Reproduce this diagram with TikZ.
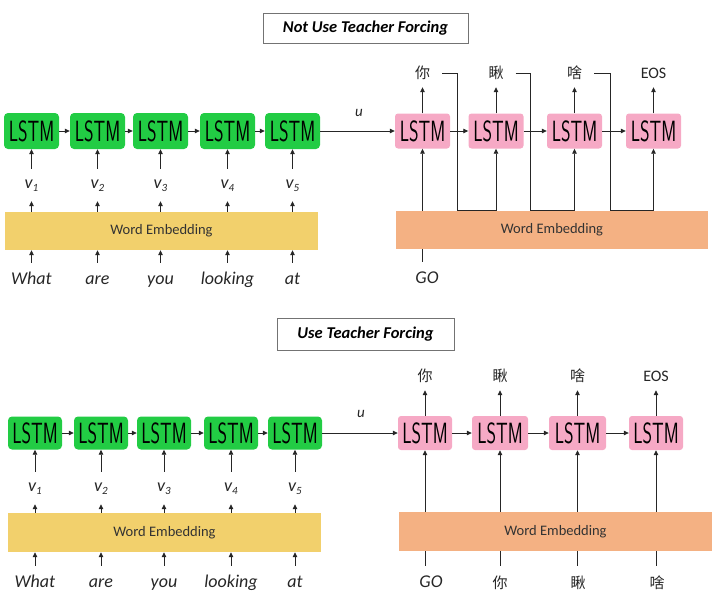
\documentclass[tikz,border=0pt]{standalone}
\usepackage{fontspec}
\setmainfont{Carlito}
\newfontfamily\cjk{Noto Sans CJK SC}
\usepackage{graphicx}
\usetikzlibrary{arrows.meta, positioning, calc}

\definecolor{lstmgreen}{HTML}{22CC44}
\definecolor{lstmpink}{HTML}{F6A9C5}
\definecolor{embyellow}{HTML}{F2D06C}
\definecolor{emborange}{HTML}{F4B183}

\newcommand{\lstm}{\sffamily\fontsize{24}{24}\selectfont\scalebox{0.76}[1.22]{LSTM}}
\newcommand{\vsub}[1]{v\raisebox{-3pt}{\fontsize{11}{11}\selectfont #1}}

\tikzset{
    enc/.style={rectangle, rounded corners=4pt, fill=lstmgreen, minimum width=55pt, minimum height=36pt, inner sep=0pt},
    dec/.style={rectangle, rounded corners=3pt, fill=lstmpink, minimum width=55pt, minimum height=35pt, inner sep=0pt},
    emb/.style={rectangle, fill=#1, minimum width=313pt, minimum height=38pt, inner sep=0pt, text=black!80, font=\fontsize{14.5}{14.5}\selectfont},
    vec/.style={font=\itshape\fontsize{18}{18}\selectfont, minimum height=32pt, text height=9pt, text depth=3pt, inner sep=0pt, text=black!85},
    word/.style={font=\itshape\fontsize{18}{18}\selectfont, minimum height=34pt, text height=12pt, text depth=4pt, inner sep=0pt, text=black!85},
    tok/.style={font=\cjk\fontsize{15}{15}\selectfont, minimum height=28pt, text height=12pt, text depth=2pt, inner sep=0pt, text=black!85},
    headbox/.style={draw=black!55, line width=0.7pt, minimum height=30pt, font=\bfseries\itshape\fontsize{16.5}{16.5}\selectfont},
    arr/.style={-{Triangle[length=5pt,width=4.5pt]}, line width=0.8pt, draw=black!85},
}

\begin{document}
\begin{tikzpicture}[x=1pt, y=-1pt]
    \useasboundingbox (0,0) rectangle (720,605);

    % not use teacher forcing
    \node[headbox, minimum width=205pt] (heada) at (365.5,28) {Not Use Teacher Forcing};

    \node[enc] (enca1) at (31.5,131) {\lstm};
    \node[enc] (enca2) at (97.5,131) {\lstm};
    \node[enc] (enca3) at (160.5,131) {\lstm};
    \node[enc] (enca4) at (227.5,131) {\lstm};
    \node[enc] (enca5) at (292.5,131) {\lstm};

    \node[vec] (veca1) at (31.5,185) {\vsub{1}};
    \node[vec] (veca2) at (97.5,185) {\vsub{2}};
    \node[vec] (veca3) at (160.5,185) {\vsub{3}};
    \node[vec] (veca4) at (227.5,185) {\vsub{4}};
    \node[vec] (veca5) at (292.5,185) {\vsub{5}};

    \node[emb=embyellow] (emba) at (161.5,231) {Word Embedding};

    \node[word] (worda1) at (31.5,280) {What};
    \node[word] (worda2) at (97.5,280) {are};
    \node[word] (worda3) at (160.5,280) {you};
    \node[word] (worda4) at (227.5,280) {looking};
    \node[word] (worda5) at (292.5,280) {at};

    \draw[arr] (enca1) -- (enca2);
    \draw[arr] (enca2) -- (enca3);
    \draw[arr] (enca3) -- (enca4);
    \draw[arr] (enca4) -- (enca5);
    \draw[arr] (veca1.north) -- (enca1.south);
    \draw[arr] (veca2.north) -- (enca2.south);
    \draw[arr] (veca3.north) -- (enca3.south);
    \draw[arr] (veca4.north) -- (enca4.south);
    \draw[arr] (veca5.north) -- (enca5.south);
    \draw[arr] (emba.north -| veca1) -- (veca1.south);
    \draw[arr] (emba.north -| veca2) -- (veca2.south);
    \draw[arr] (emba.north -| veca3) -- (veca3.south);
    \draw[arr] (emba.north -| veca4) -- (veca4.south);
    \draw[arr] (emba.north -| veca5) -- (veca5.south);
    \draw[arr] (worda1.north) -- (worda1.north |- emba.south);
    \draw[arr] (worda2.north) -- (worda2.north |- emba.south);
    \draw[arr] (worda3.north) -- (worda3.north |- emba.south);
    \draw[arr] (worda4.north) -- (worda4.north |- emba.south);
    \draw[arr] (worda5.north) -- (worda5.north |- emba.south);

    \node[dec] (deca1) at (422.5,131) {\lstm};
    \node[dec] (deca2) at (496,131) {\lstm};
    \node[dec] (deca3) at (574.5,131) {\lstm};
    \node[dec] (deca4) at (653.5,131) {\lstm};

    \node[tok] (toka1) at (422.5,73) {你};
    \node[tok] (toka2) at (496,73) {瞅};
    \node[tok] (toka3) at (574.5,73) {啥};
    \node[tok, font=\fontsize{16}{16}\selectfont] (toka4) at (653.5,73) {EOS};

    \node[word, font=\itshape\fontsize{15}{15}\selectfont] (ua) at (359,112) {u};
    \node[word] (goa) at (427,279) {GO};

    \draw[arr] (enca5) -- (deca1);
    \draw[arr] (deca1) -- (deca2);
    \draw[arr] (deca2) -- (deca3);
    \draw[arr] (deca3) -- (deca4);
    \draw[arr] (deca1.north) -- (toka1.south);
    \draw[arr] (deca2.north) -- (toka2.south);
    \draw[arr] (deca3.north) -- (toka3.south);
    \draw[arr] (deca4.north) -- (toka4.south);
    \draw[arr] (goa.north -| deca1) -- (deca1.south);

    \node[emb=emborange, minimum width=312pt] (embda) at (552,230) {Word Embedding};

    \draw[arr] ([xshift=12pt]toka1.east) -- ++(15,0) |- (embda.north -| deca2) -- (deca2.south);
    \draw[arr] ([xshift=12pt]toka2.east) -- ++(15,0) |- (embda.north -| deca3) -- (deca3.south);
    \draw[arr] ([xshift=12pt]toka3.east) -- ++(16,0) |- (embda.north -| deca4) -- (deca4.south);

    % use teacher forcing
    \node[headbox, minimum width=177pt, minimum height=32pt] (headb) at (365.5,334) {Use Teacher Forcing};

    \node[enc, minimum width=54pt, minimum height=33pt] (encb1) at (35,433) {\lstm};
    \node[enc, minimum width=54pt, minimum height=33pt] (encb2) at (101,433) {\lstm};
    \node[enc, minimum width=54pt, minimum height=33pt] (encb3) at (164,433) {\lstm};
    \node[enc, minimum width=54pt, minimum height=33pt] (encb4) at (231,433) {\lstm};
    \node[enc, minimum width=54pt, minimum height=33pt] (encb5) at (295,433) {\lstm};

    \node[vec] (vecb1) at (35,488) {\vsub{1}};
    \node[vec] (vecb2) at (101,488) {\vsub{2}};
    \node[vec] (vecb3) at (164,488) {\vsub{3}};
    \node[vec] (vecb4) at (231,488) {\vsub{4}};
    \node[vec] (vecb5) at (295,488) {\vsub{5}};

    \node[emb=embyellow, minimum height=39pt] (embb) at (164.5,532.5) {Word Embedding};

    \node[word] (wordb1) at (35,583) {What};
    \node[word] (wordb2) at (101,583) {are};
    \node[word] (wordb3) at (164,583) {you};
    \node[word] (wordb4) at (231,583) {looking};
    \node[word] (wordb5) at (295,583) {at};

    \draw[arr] (encb1) -- (encb2);
    \draw[arr] (encb2) -- (encb3);
    \draw[arr] (encb3) -- (encb4);
    \draw[arr] (encb4) -- (encb5);
    \draw[arr] (vecb1.north) -- (encb1.south);
    \draw[arr] (vecb2.north) -- (encb2.south);
    \draw[arr] (vecb3.north) -- (encb3.south);
    \draw[arr] (vecb4.north) -- (encb4.south);
    \draw[arr] (vecb5.north) -- (encb5.south);
    \draw[arr] (embb.north -| vecb1) -- (vecb1.south);
    \draw[arr] (embb.north -| vecb2) -- (vecb2.south);
    \draw[arr] (embb.north -| vecb3) -- (vecb3.south);
    \draw[arr] (embb.north -| vecb4) -- (vecb4.south);
    \draw[arr] (embb.north -| vecb5) -- (vecb5.south);
    \draw[arr] (wordb1.north) -- (wordb1.north |- embb.south);
    \draw[arr] (wordb2.north) -- (wordb2.north |- embb.south);
    \draw[arr] (wordb3.north) -- (wordb3.north |- embb.south);
    \draw[arr] (wordb4.north) -- (wordb4.north |- embb.south);
    \draw[arr] (wordb5.north) -- (wordb5.north |- embb.south);

    \node[dec, minimum width=54pt, minimum height=34pt] (decb1) at (425,433) {\lstm};
    \node[dec, minimum width=56pt, minimum height=34pt] (decb2) at (500,433) {\lstm};
    \node[dec, minimum width=57pt, minimum height=34pt] (decb3) at (577.5,433) {\lstm};
    \node[dec, minimum width=54pt, minimum height=34pt] (decb4) at (656,433) {\lstm};

    \node[tok] (tokb1) at (425,376) {你};
    \node[tok] (tokb2) at (500,376) {瞅};
    \node[tok] (tokb3) at (577.5,376) {啥};
    \node[tok, font=\fontsize{16}{16}\selectfont] (tokb4) at (656,376) {EOS};

    \node[word, font=\itshape\fontsize{15}{15}\selectfont] (ub) at (361,413) {u};
    \node[word] (inb1) at (431,583) {GO};
    \node[tok, minimum height=34pt] (inb2) at (500,583) {你};
    \node[tok, minimum height=34pt] (inb3) at (578,583) {瞅};
    \node[tok, minimum height=34pt] (inb4) at (657,583) {啥};

    \draw[arr] (encb5) -- (decb1);
    \draw[arr] (decb1) -- (decb2);
    \draw[arr] (decb2) -- (decb3);
    \draw[arr] (decb3) -- (decb4);
    \draw[arr] (decb1.north) -- (tokb1.south);
    \draw[arr] (decb2.north) -- (tokb2.south);
    \draw[arr] (decb3.north) -- (tokb3.south);
    \draw[arr] (decb4.north) -- (tokb4.south);
    \draw[arr] (inb1.north -| decb1) -- (decb1.south);
    \draw[arr] (inb2.north -| decb2) -- (decb2.south);
    \draw[arr] (inb3.north -| decb3) -- (decb3.south);
    \draw[arr] (inb4.north -| decb4) -- (decb4.south);

    \node[emb=emborange, minimum height=39pt] (embdb) at (555.5,531.5) {Word Embedding};
\end{tikzpicture}
\end{document}
